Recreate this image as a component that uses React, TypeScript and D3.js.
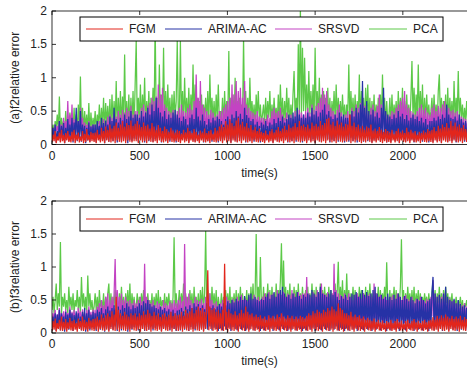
import React from 'react';
import * as d3 from 'd3';

// one value every 6 s
const STEP = 6;

const SERIES_NAMES = ['FGM', 'ARIMA-AC', 'SRSVD', 'PCA'];
const COLORS = ['#e2261c', '#2632a6', '#c343c3', '#5cc948'];

const X_TICKS = [0, 500, 1000, 1500, 2000];
const Y_TICKS = [0, 0.5, 1, 1.5, 2];

// (a) f2 — each row covers 240 s
const A_FGM = [
  .03,.15,.05,.2,.02,.12,.06,.18,.03,.22,.05,.14,.02,.17,.06,.2,.04,.13,.03,.19,.05,.22,.02,.15,.06,.18,.03,.12,.05,.2,.02,.16,.04,.23,.06,.14,.03,.19,.05,.17,
  .04,.18,.02,.22,.06,.15,.03,.25,.05,.2,.02,.27,.06,.22,.04,.3,.03,.24,.05,.28,.02,.33,.06,.25,.04,.3,.03,.35,.05,.27,.02,.32,.06,.29,.04,.36,.03,.28,.05,.31,
  .05,.35,.02,.3,.06,.26,.03,.33,.05,.28,.02,.3,.06,.24,.04,.32,.03,.27,.05,.22,.02,.29,.06,.25,.04,.2,.03,.27,.05,.23,.02,.19,.06,.25,.04,.21,.03,.18,.05,.22,
  .04,.2,.02,.16,.06,.22,.03,.18,.05,.25,.02,.2,.06,.17,.04,.23,.03,.19,.05,.15,.02,.21,.06,.18,.04,.24,.03,.17,.05,.2,.02,.22,.06,.16,.04,.25,.03,.21,.05,.27,
  .05,.3,.02,.26,.06,.35,.03,.3,.05,.38,.02,.32,.06,.28,.04,.36,.03,.4,.05,.3,.02,.34,.06,.27,.04,.32,.03,.25,.05,.29,.02,.22,.06,.26,.04,.2,.03,.24,.05,.19,
  .04,.17,.02,.21,.06,.15,.03,.2,.05,.23,.02,.18,.06,.22,.04,.26,.03,.2,.05,.24,.02,.28,.06,.22,.04,.3,.03,.25,.05,.27,.02,.32,.06,.26,.04,.35,.03,.28,.05,.3,
  .05,.26,.02,.3,.06,.24,.03,.33,.05,.28,.02,.31,.06,.27,.04,.35,.03,.29,.05,.32,.02,.38,.06,.4,.04,.3,.03,.34,.05,.28,.02,.36,.06,.3,.04,.33,.03,.27,.05,.31,
  .04,.3,.06,.45,.02,.28,.05,.33,.03,.26,.06,.3,.04,.24,.02,.28,.05,.22,.03,.27,.06,.25,.04,.3,.02,.21,.05,.24,.03,.2,.06,.26,.04,.22,.02,.19,.05,.23,.03,.2,
  .04,.18,.02,.22,.06,.16,.03,.2,.05,.24,.02,.18,.06,.21,.04,.17,.03,.25,.05,.19,.02,.22,.06,.18,.04,.2,.03,.15,.05,.19,.02,.17,.06,.21,.04,.18,.03,.23,.05,.2,
  .04,.22,.02,.26,.06,.2,.03,.28,.05,.24,.02,.3,.06,.26,.04,.32,.03,.25,.05,.35,.02,.28,.06,.33,.04,.27,.03,.3,.05,.25,.02,.29,.06,.23,.04,.26,.03,.22,.05,.25,
];
const A_ARIMA = [
  .05,.25,.1,.3,.03,.2,.08,.35,.04,.28,.1,.32,.02,.25,.07,.38,.05,.3,.09,.4,.03,.33,.1,.55,.05,.35,.08,.5,.04,.3,.1,.28,.02,.25,.06,.33,.04,.27,.09,.3,
  .06,.3,.03,.35,.1,.28,.05,.4,.08,.32,.02,.36,.07,.3,.04,.42,.09,.35,.05,.55,.1,.38,.03,.33,.08,.4,.04,.36,.1,.45,.06,.38,.02,.42,.07,.5,.05,.4,.09,.45,
  .08,.45,.04,.4,.1,.5,.06,.42,.03,.48,.09,.55,.05,.45,.1,.6,.04,.5,.08,.7,.06,.55,.1,.48,.03,.42,.07,.5,.05,.38,.09,.45,.04,.4,.1,.48,.06,.52,.03,.45,
  .07,.4,.04,.35,.1,.42,.05,.38,.08,.3,.03,.4,.09,.45,.06,.38,.04,.55,.1,.42,.05,.36,.08,.45,.03,.35,.07,.3,.05,.38,.1,.33,.04,.4,.08,.36,.06,.42,.03,.38,
  .07,.35,.04,.3,.1,.38,.05,.42,.08,.36,.03,.45,.09,.4,.06,.5,.04,.42,.1,.46,.05,.38,.08,.55,.03,.44,.07,.4,.05,.35,.1,.38,.04,.3,.08,.34,.06,.28,.03,.33,
  .07,.3,.04,.35,.1,.28,.05,.33,.08,.3,.03,.38,.09,.32,.06,.4,.04,.35,.1,.42,.05,.33,.08,.38,.03,.45,.07,.4,.05,.48,.1,.42,.04,.55,.08,.45,.06,.4,.03,.45,
  .07,.4,.04,.48,.1,.42,.05,.55,.08,.45,.03,.5,.09,.42,.06,.48,.04,.52,.1,.6,.05,.45,.08,.5,.03,.42,.07,.38,.05,.45,.1,.4,.04,.48,.08,.42,.06,.45,.03,.4,
  .07,.4,.04,.45,.1,.5,.05,.42,.08,.55,.03,.48,.09,.6,.06,.95,.04,.55,.1,.65,.05,.5,.08,.45,.03,.52,.07,.42,.05,.48,.1,.4,.04,.55,.08,.85,.06,.5,.03,.45,
  .07,.42,.04,.38,.1,.45,.05,.4,.08,.5,.03,.42,.09,.46,.06,.38,.04,.44,.1,.36,.05,.4,.08,.45,.03,.38,.07,.42,.05,.35,.1,.4,.04,.33,.08,.38,.06,.3,.03,.35,
  .07,.35,.04,.4,.1,.36,.05,.42,.08,.38,.03,.45,.09,.4,.06,.6,.04,.45,.1,.4,.05,.38,.08,.42,.03,.36,.07,.45,.05,.38,.1,.33,.04,.35,.08,.3,.06,.32,.03,.28,
];
const A_SRSVD = [
  .15,.25,.1,.3,.2,.28,.12,.35,.18,.3,.1,.4,.2,.35,.15,.65,.12,.45,.2,.6,.15,.38,.1,.42,.18,.35,.12,.55,.2,.4,.15,.33,.1,.3,.18,.35,.12,.28,.2,.3,
  .15,.3,.1,.28,.2,.35,.12,.3,.18,.38,.1,.33,.2,.42,.15,.45,.12,.4,.2,.48,.15,.42,.1,.5,.18,.45,.12,.52,.2,.48,.15,.55,.1,.5,.18,.58,.12,.45,.2,.5,
  .2,.5,.15,.45,.25,.55,.18,.6,.22,.5,.15,.58,.25,.62,.2,.7,.18,.65,.25,.72,.2,.9,.15,.75,.22,.85,.18,.6,.25,.55,.2,.5,.15,.48,.22,.52,.18,.45,.25,.5,
  .2,.55,.15,.6,.25,.5,.18,.48,.22,.55,.15,.6,.25,.52,.2,.65,.18,1.05,.25,.7,.2,.95,.15,.6,.22,.55,.18,.5,.25,.45,.2,.52,.15,.48,.22,.42,.18,.45,.25,.5,
  .2,.5,.15,.55,.25,.6,.18,.65,.22,.7,.15,.9,.25,.75,.2,.95,.18,.8,.25,.85,.2,.7,.15,.95,.22,.6,.18,.55,.25,.5,.2,.48,.15,.45,.22,.5,.18,.42,.25,.4,
  .2,.4,.15,.38,.25,.45,.18,.4,.22,.5,.15,.55,.25,.48,.2,.5,.18,.55,.25,.45,.2,.4,.15,.48,.22,.42,.18,.45,.25,.38,.2,.5,.15,.45,.22,.52,.18,.48,.25,.45,
  .2,.5,.15,.55,.25,.48,.18,.6,.22,.52,.15,.58,.25,.62,.2,.7,.18,.85,.25,.75,.2,.8,.15,.6,.22,.55,.18,.5,.25,.45,.2,.52,.15,.6,.22,.48,.18,.42,.25,.45,
  .2,.5,.15,.45,.25,.55,.18,.5,.22,.6,.15,.55,.25,.62,.2,.7,.18,.58,.25,.5,.2,.45,.15,.55,.22,.6,.18,.5,.25,.58,.2,.75,.15,.6,.22,.55,.18,.48,.25,.42,
  .2,.45,.15,.5,.25,.48,.18,.55,.22,.6,.15,.65,.25,.7,.2,.8,.18,.6,.25,.55,.2,.5,.15,.48,.22,.45,.18,.5,.25,.55,.2,.6,.15,.52,.22,.55,.18,.48,.25,.45,
  .2,.55,.15,.6,.25,.5,.18,.58,.22,.55,.15,.6,.25,.65,.2,.58,.18,.55,.25,.5,.2,.52,.15,.48,.22,.5,.18,.45,.25,.42,.2,.4,.15,.38,.22,.35,.18,.33,.25,.3,
];
const A_PCA = [
  .2,.3,.15,.35,.25,.45,.2,.72,.18,.4,.25,.35,.15,.5,.22,.42,.18,.48,.25,.38,.2,.55,.15,.45,.22,.6,.25,1.02,.2,.55,.18,.5,.25,.45,.2,.62,.15,.48,.22,.4,
  .25,.5,.2,.45,.3,.6,.22,.55,.28,.7,.2,.62,.3,.58,.25,.68,.22,.75,.3,.65,.25,.95,.2,.7,.3,.8,.25,.72,.3,1.35,.22,.65,.28,.75,.25,.7,.3,.8,.22,.9,
  1.55,.3,.7,.35,.9,.3,.75,.4,1.0,.3,.65,.35,.8,.3,.7,.4,.85,.35,1.85,.4,.7,.3,1.2,.35,.75,.4,1.45,.3,.8,.35,.9,.4,.7,.3,.75,.35,.8,.4,.65,1.55,
  .5,.4,1.55,.35,.8,.3,1.0,.4,.7,.35,.85,.3,.75,.4,1.2,.35,.9,.3,.7,.4,.65,.35,.75,.3,.6,.4,.7,.35,.8,.3,1.05,.4,.7,.35,.65,.3,.75,.4,.9,.35,
  .5,.35,.7,.3,.8,.4,.65,.35,1.4,.3,.7,.4,.75,.35,1.0,.3,.65,.4,.7,.35,.6,.3,1.6,.4,.8,.35,.7,.3,1.0,.4,.65,.35,.6,.3,.75,.4,.8,.35,.6,.3,
  .45,.6,.3,.7,.35,.65,.4,.8,.3,.6,.35,.7,.4,.55,.3,.75,.35,.9,.4,.7,.3,.65,.35,.85,.4,.7,.3,.6,.35,.75,1.1,.4,.7,.35,1.5,.4,2.05,.45,1.45,.5,
  1.3,.5,.9,.4,1.1,.45,.8,.4,.9,.35,1.45,.5,.8,.4,1.0,.35,.75,.4,.8,.35,.7,.4,.85,.35,.7,.3,.65,.4,.8,.35,.9,.4,.7,.3,.65,.35,.75,.4,.6,.3,
  .6,.4,1.2,.35,.8,.4,.7,.35,.75,.3,.65,.4,1.05,.35,.8,.4,.7,.3,.85,.4,.9,.35,.7,.3,.65,.4,.75,.35,.6,.3,.7,.4,.75,.35,1.05,.4,.7,.3,.65,.35,
  .4,.7,.3,.75,.35,.6,.4,.65,.3,.8,.35,.7,.4,.85,.3,.65,.35,.75,.4,.6,.3,.7,1.25,.4,.85,.35,.75,.4,1.2,.35,.8,.4,.9,.3,.7,.35,.75,.4,.6,.35,
  .5,.7,.35,.75,.4,.6,.3,.8,1.05,.4,.7,.35,.65,.4,.75,.3,.85,.35,.7,.4,.65,.3,.95,.35,.7,.4,1.1,.35,.7,.4,.6,.3,.55,.35,.65,.3,.5,.25,.55,.3,
];

// (b) f3
const B_FGM = [
  .03,.18,.05,.22,.02,.15,.06,.2,.04,.25,.03,.17,.05,.21,.02,.16,.06,.23,.04,.18,.03,.2,.05,.15,.02,.22,.06,.18,.04,.25,.03,.2,.05,.17,.02,.23,.06,.19,.04,.21,
  .03,.22,.05,.25,.02,.2,.06,.28,.04,.23,.03,.27,.05,.3,.02,.25,.06,.33,.04,.28,.03,.55,.05,.35,.02,.3,.06,.26,.04,.32,.03,.28,.05,.25,.02,.3,.06,.27,.04,.3,
  .03,.25,.05,.3,.02,.27,.06,.33,.04,.28,.03,.35,.05,.3,.02,.26,.06,.32,.04,.27,.03,.3,.05,.24,.02,.28,.06,.3,.04,.25,.03,.28,.05,.32,.02,.26,.06,.3,.04,.27,
  .03,.28,.05,.32,.02,.26,.06,.35,.04,.3,.03,.33,.05,.38,.02,.3,.06,.35,.04,.4,.03,.34,.05,.38,.02,.32,.06,.36,.95,.04,.4,.06,.35,.03,.38,.05,.32,.02,.35,.06,
  .3,.04,.35,.03,1.05,.05,.32,.02,.36,.06,.3,.04,.28,.03,.33,.05,.27,.02,.3,.06,.35,.04,.3,.03,.4,.05,.32,.02,.28,.06,.3,.04,.25,.03,.28,.05,.24,.02,.27,.06,
  .22,.04,.25,.03,.2,.05,.27,.02,.23,.06,.26,.04,.22,.03,.28,.05,.24,.02,.3,.06,.25,.04,.22,.03,.27,.05,.23,.02,.26,.06,.21,.04,.25,.03,.22,.05,.26,.02,.24,.06,
  .22,.04,.26,.03,.3,.05,.27,.02,.33,.06,.3,.04,.35,.03,.32,.05,.3,.02,.35,.06,.32,.04,.38,.03,.34,.05,.4,.02,.36,.06,.33,.04,.45,.03,.38,.05,.35,.02,.3,.06,
  .3,.04,.27,.03,.32,.05,.25,.02,.28,.06,.24,.04,.27,.03,.22,.05,.25,.02,.2,.06,.23,.04,.2,.03,.18,.05,.22,.02,.17,.06,.2,.04,.16,.03,.19,.05,.15,.02,.18,.06,
  .16,.04,.2,.03,.15,.05,.18,.02,.21,.06,.16,.04,.19,.03,.14,.05,.18,.02,.2,.06,.15,.04,.18,.03,.21,.05,.16,.02,.19,.06,.15,.04,.18,.03,.2,.05,.16,.02,.19,.06,
  .2,.04,.24,.03,.2,.05,.26,.02,.22,.06,.27,.04,.23,.03,.28,.05,.25,.02,.22,.06,.26,.04,.21,.03,.25,.05,.22,.02,.26,.06,.2,.04,.24,.03,.21,.05,.25,.02,.22,.06,
];
const B_ARIMA = [
  .05,.25,.1,.3,.03,.28,.08,.35,.04,.3,.1,.25,.02,.32,.07,.28,.05,.35,.09,.3,.03,.27,.1,.33,.05,.3,.08,.25,.04,.32,.1,.38,.02,.3,.06,.35,.04,.28,.09,.32,
  .06,.3,.03,.35,.1,.32,.05,.38,.08,.3,.02,.36,.07,.4,.04,.34,.09,.38,.05,.42,.1,.36,.03,.4,.08,.35,.04,.42,.1,.38,.06,.45,.02,.4,.07,.36,.05,.42,.09,.38,
  .08,.4,.04,.45,.1,.42,.06,.48,.03,.45,.09,.5,.05,.44,.1,.4,.04,.42,.08,.38,.06,.36,.1,.4,.03,.35,.07,.38,.05,.33,.09,.36,.04,.32,.08,.35,.06,.3,.03,.34,
  .07,.35,.04,.38,.1,.33,.05,.4,.08,.36,.03,.42,.09,.38,.06,.45,.04,.4,.1,.44,.05,.38,.08,.42,.03,.36,.07,.45,.05,.4,.1,.38,.04,.42,.08,.36,.06,.4,.03,.44,
  .07,.4,.04,.45,.1,.42,.05,.48,.08,.45,.03,.5,.09,.46,.06,.52,.04,.48,.1,.55,.05,.5,.08,.56,.03,.5,.07,.58,.05,.6,.1,.52,.04,.55,.08,.5,.06,.48,.03,.52,
  .07,.5,.04,.55,.1,.6,.05,.52,.08,.58,.03,.62,.09,.55,.06,.6,.04,.65,.1,.7,.05,.6,.08,.55,.03,.58,.07,.52,.05,.6,.1,.55,.04,.62,.08,.56,.06,.52,.03,.58,
  .07,.55,.04,.6,.1,.58,.05,.65,.08,.6,.03,.55,.09,.62,.06,.7,.04,.6,.1,.58,.05,.55,.08,.6,.03,.65,.07,.58,.05,.62,.1,.55,.04,.5,.08,.56,.06,.52,.03,.58,
  .07,.5,.04,.55,.1,.6,.05,.58,.08,.62,.03,.55,.09,.6,.06,.65,.04,.58,.1,.62,.05,.56,.08,.6,.03,.65,.07,.7,.05,.6,.1,.55,.04,.58,.08,.52,.06,.55,.03,.6,
  .07,.55,.04,.5,.1,.58,.05,.52,.08,.6,.03,.55,.09,.5,.06,.56,.04,.52,.1,.48,.05,.55,.08,.5,.03,.45,.07,.52,.05,.48,.1,.55,.04,.5,.08,.45,.06,.48,.03,.52,
  .07,.6,.85,.04,.6,.1,.55,.05,.58,.08,.52,.03,.6,.09,.7,.06,.55,.04,.5,.1,.48,.05,.52,.08,.45,.03,.5,.07,.44,.05,.4,.1,.42,.04,.38,.08,.4,.06,.36,.03,
];
const B_SRSVD = [
  .15,.3,.2,.35,.12,.28,.22,.38,.15,.3,.2,.33,.12,.36,.18,.3,.22,.4,.15,.32,.2,.35,.12,.3,.18,.38,.22,.33,.15,.36,.2,.3,.12,.35,.18,.4,.22,.32,.15,.36,
  .2,.35,.15,.4,.25,.45,.18,.5,.22,.42,.15,.55,.25,.6,.2,.5,.18,.55,.25,.6,1.12,.3,.65,.25,.55,.2,.6,.18,.5,.25,.55,.2,.48,.15,.5,.22,.45,.18,.5,.25,
  .45,.2,.5,.15,.55,.25,.48,.2,1.05,.18,.55,.25,.5,.2,.45,.15,.5,.22,.42,.18,.48,.25,.45,.2,.4,.15,.5,.22,.45,.18,.42,.25,.48,.2,.45,.15,.5,.22,.45,.18,
  .5,.25,.55,.2,.48,.15,1.35,.22,.55,.18,.6,.25,.5,.2,.45,.15,.55,.22,.5,.18,.48,.25,.52,.2,.45,.15,.55,.22,.5,.18,.6,.25,.5,.2,.45,.15,.48,.22,.42,.18,
  .45,.25,.5,.2,.48,.15,.55,.22,.5,.18,.45,.25,.52,.2,.48,.15,.55,.22,.5,.18,.58,.25,.5,.2,.52,.15,.48,.22,.55,.18,.5,.25,.58,.2,.52,.15,.55,.22,.5,.18,
  .55,.25,.6,.2,.55,.15,.62,.22,.58,.18,.6,.25,.55,.2,.65,.15,.6,.22,.58,.18,.62,.25,.55,.2,.6,.15,.58,.22,.65,.18,.6,.25,.55,.2,.62,.15,.58,.22,.6,.18,
  .6,.25,.85,.2,.6,.15,.55,.22,.62,.18,.58,.25,.65,.2,.6,.15,.75,.22,.6,.18,.58,.25,.62,.2,.55,.15,.6,.22,1.05,.18,.65,.25,.6,.2,.58,.15,.55,.22,.6,.18,
  .55,.25,.6,.2,.55,.15,.5,.22,.58,.18,.6,.25,.55,.2,.52,.15,.6,.22,.55,.18,.58,.25,.6,.2,.55,.15,.75,.22,.6,.18,.55,.25,.58,.2,.52,.15,.55,.22,.5,.18,
  .5,.25,.55,.2,.58,.15,.52,.22,.6,.18,.55,.25,.5,.2,.55,.15,.58,.22,.52,.18,.5,.25,.55,.2,.48,.15,.52,.22,.5,.18,.55,.25,.5,.2,.48,.15,.52,.22,.5,.18,
  .55,.25,.8,.2,.6,.15,.55,.22,.58,.18,.55,.25,.6,.2,.55,.15,.5,.22,.52,.18,.48,.25,.5,.2,.45,.15,.48,.22,.45,.18,.42,.25,.45,.2,.4,.15,.42,.22,.4,.18,
];
const B_PCA = [
  .35,.55,.3,.5,.75,.35,.6,.4,1.38,.3,.55,.4,.6,.35,.5,.3,.7,.4,.55,.35,.6,.3,.5,.4,.65,.35,.55,.3,.85,.4,.6,.35,.55,.3,.87,.4,.6,.35,.5,.3,
  .4,.6,.35,.55,.3,.65,.4,.5,.35,.6,.3,.55,.4,.6,.75,.35,.6,.3,.55,.4,.65,.35,.5,.3,.6,.4,.7,.35,.55,.3,.6,.4,.65,.35,.75,.3,.6,.4,.55,.35,
  .4,.6,.35,.55,.3,.6,.4,.65,.35,.55,.3,.6,.4,.5,.35,.6,.3,.55,.4,.6,.35,.65,.3,.55,.4,.5,.35,.6,.3,.55,.4,.6,.35,.5,.3,.55,1.45,.4,.6,.35,
  .45,.65,.35,.6,.4,.75,.3,.6,.4,.55,.35,.65,.4,.6,.3,.7,.4,.55,.35,.6,.3,.65,.4,.7,.35,.6,1.55,.4,.65,.35,.6,.3,.7,.4,.6,.35,.65,.3,.55,.4,
  .4,.6,.35,.55,.3,.65,.4,.6,.35,.7,.3,.55,.4,.6,.35,.65,.3,.6,.4,.7,.35,.6,.3,.55,.4,.65,.35,.6,.3,.7,.4,.75,.35,.6,1.5,.4,.7,.35,1.15,.45,
  .4,.7,.35,.6,.45,.75,.4,.65,.35,.7,.4,.6,.35,.75,.4,.65,.45,.8,1.36,.4,1.1,.45,.7,.35,.65,.4,.75,.35,.6,.4,.7,.45,.65,.35,.75,.4,.6,.45,.7,.4,
  .45,.65,.4,.7,.35,.6,.4,.75,.45,.65,.35,.7,.4,.6,.45,.75,.35,.65,.4,.7,.45,.6,.35,.7,.4,.65,.45,.6,.35,.75,.4,.65,1.08,.4,.7,.45,.8,.35,.65,.4,
  .9,.4,.65,.35,.6,.45,.7,.4,.65,.35,.6,.4,.7,.45,.65,.35,.6,.4,.7,.35,.65,.4,.75,.45,.6,.35,.65,.4,.6,.45,.7,.35,.65,.4,.6,.45,.7,.4,1.07,.45,
  .4,.65,.35,.6,.45,.7,.4,.65,.35,.6,.4,.7,1.42,.45,.65,.35,.6,.4,.7,.45,.6,.35,.65,.4,.7,.35,.6,.45,.65,.4,.6,.35,.55,.4,.6,.45,.55,.35,.6,.4,
  .45,.6,.8,.4,.65,.35,.6,.45,.7,.4,.6,.35,.65,.4,.7,.45,.6,.35,.55,.4,.6,.35,.5,.4,.55,.3,.5,.4,.55,.35,.5,.3,.45,.4,.5,.35,.45,.3,.5,.35,
];

const PANELS = [
  { id: 'a', label: '(a)f2relative error', top: 11, bottom: 144.5, data: [A_FGM, A_ARIMA, A_SRSVD, A_PCA] },
  { id: 'b', label: '(b)f3relative error', top: 201, bottom: 333, data: [B_FGM, B_ARIMA, B_SRSVD, B_PCA] },
];

const FONT = 'Liberation Sans, Arial, sans-serif';
const LEFT = 52;
const RIGHT = 473;

// legend geometry: [line start, line end, text x]
const LEGEND_POS = [[86, 123, 129], [165, 202, 208], [275, 312, 318], [369, 407, 413]];

function Panel({ p }: { p: typeof PANELS[number] }) {
  const x = d3.scaleLinear().domain([0, 2400]).range([LEFT, RIGHT]);
  const y = d3.scaleLinear().domain([0, 2]).range([p.bottom, p.top]);
  const line = d3.line<number>().x((_, i) => x(i * STEP)).y((v) => y(v));
  const tk = 4;
  const order = [3, 2, 1, 0]; // PCA behind, FGM on top

  return (
    <g>
      <defs>
        <clipPath id={`clip-${p.id}`}>
          <rect x={LEFT} y={p.top} width={RIGHT - LEFT} height={p.bottom - p.top} />
        </clipPath>
      </defs>
      <g clipPath={`url(#clip-${p.id})`}>
        {order.map((k) => (
          <path key={k} d={line(p.data[k]) || ''} fill="none" stroke={COLORS[k]} strokeWidth={1.25} strokeLinejoin="bevel" />
        ))}
      </g>
      <rect x={LEFT} y={p.top} width={RIGHT - LEFT} height={p.bottom - p.top} fill="none" stroke="#000" strokeWidth={0.8} />
      {X_TICKS.map((t) => (
        <g key={t}>
          <line x1={x(t)} x2={x(t)} y1={p.bottom} y2={p.bottom - tk} stroke="#000" strokeWidth={0.8} />
          <line x1={x(t)} x2={x(t)} y1={p.top} y2={p.top + tk} stroke="#000" strokeWidth={0.8} />
          <text x={x(t)} y={p.bottom + 15} textAnchor="middle" fontSize={12} fontFamily={FONT} fill="#222">{t}</text>
        </g>
      ))}
      {Y_TICKS.map((t) => (
        <g key={t}>
          <line x1={LEFT} x2={LEFT + tk} y1={y(t)} y2={y(t)} stroke="#000" strokeWidth={0.8} />
          <line x1={RIGHT} x2={RIGHT - tk} y1={y(t)} y2={y(t)} stroke="#000" strokeWidth={0.8} />
          <text x={LEFT - 5} y={y(t) + 4} textAnchor="end" fontSize={12} fontFamily={FONT} fill="#222">{t}</text>
        </g>
      ))}
      <text x={(LEFT + 467) / 2} y={p.bottom + 32} textAnchor="middle" fontSize={12} fontFamily={FONT} fill="#222">time(s)</text>
      <text transform={`translate(19,${(p.top + p.bottom) / 2}) rotate(-90)`} textAnchor="middle" fontSize={12} fontFamily={FONT} fill="#222">{p.label}</text>
      <g>
        <rect x={80} y={p.top + 6} width={363} height={24} fill="#fff" stroke="#000" strokeWidth={1} />
        {SERIES_NAMES.map((name, k) => (
          <g key={name}>
            <line x1={LEGEND_POS[k][0]} x2={LEGEND_POS[k][1]} y1={p.top + 18} y2={p.top + 18} stroke={COLORS[k]} strokeWidth={1} />
            <text x={LEGEND_POS[k][2]} y={p.top + 22} fontSize={12} fontFamily={FONT} fill="#222">{name}</text>
          </g>
        ))}
      </g>
    </g>
  );
}

export default function App() {
  return (
    <svg width={467} height={372} style={{ position: 'absolute', left: 0, top: 0, background: '#fff' }}>
      {PANELS.map((p) => (
        <Panel key={p.id} p={p} />
      ))}
    </svg>
  );
}
